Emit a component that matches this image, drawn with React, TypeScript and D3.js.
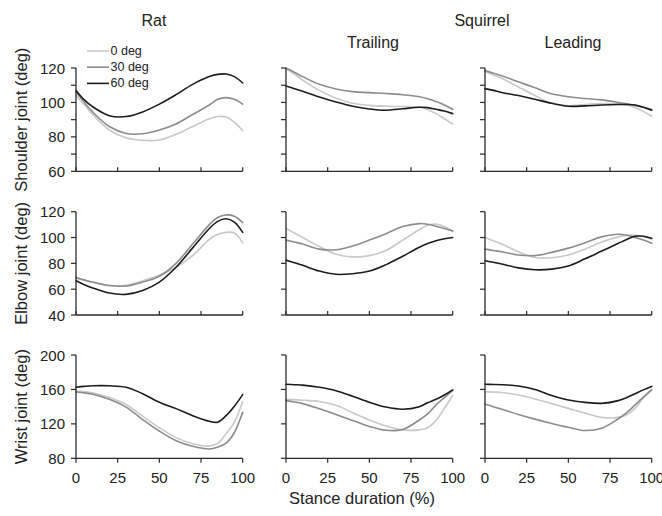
import React from "react";
import * as d3 from "d3";

const STANCE = [0, 5, 10, 20, 30, 40, 50, 60, 70, 80, 85, 90, 95, 100];
const SERIES = ["0 deg", "30 deg", "60 deg"];
const COLUMNS = ["Rat", "Trailing", "Leading"];
const GROUP_TITLE = "Squirrel";
const ROW_LABELS = ["Shoulder joint (deg)", "Elbow joint (deg)", "Wrist joint (deg)"];
const X_TICKS = [0, 25, 50, 75, 100];
const X_LABEL = "Stance duration (%)";

const SHOULDER_DOMAIN = [60, 120];
const SHOULDER_TICKS = [60, 70, 80, 90, 100, 110, 120];
const SHOULDER_LABELS = [60, 80, 100, 120];
const ELBOW_DOMAIN = [40, 120];
const ELBOW_TICKS = [40, 60, 80, 100, 120];
const ELBOW_LABELS = [40, 60, 80, 100, 120];
const WRIST_DOMAIN = [80, 200];
const WRIST_TICKS = [80, 120, 160, 200];
const WRIST_LABELS = [80, 120, 160, 200];

// Shoulder
const ratShoulder0 = [104, 98.5, 93, 84, 79.5, 78, 78.2, 81.5, 86, 90.5, 91.8, 91.5, 88.5, 83.5];
const ratShoulder30 = [106, 100, 94.5, 86, 82, 81.8, 84, 87.5, 93, 98.5, 101.8, 102.8, 101.8, 99];
const ratShoulder60 = [107, 101.5, 97.5, 92.3, 91.8, 94.5, 99, 104.5, 110.5, 115, 116.3, 116.5, 115, 111.3];
const trailShoulder0 = [119.5, 116.5, 113, 107, 102.5, 99.5, 98.3, 97.8, 97.6, 97.3, 95.8, 93.5, 90.5, 87.5];
const trailShoulder30 = [120, 117.5, 115, 110.5, 107.8, 106.3, 105.7, 105.2, 104.5, 103.3, 102.2, 100.5, 98.5, 96];
const trailShoulder60 = [109.5, 108, 106.5, 103.2, 100.3, 97.8, 96.2, 95.5, 96.3, 97.2, 97, 96, 95, 93.5];
const leadShoulder0 = [118, 116, 114, 109, 104, 99.5, 98, 98.8, 99.3, 99.2, 98.5, 97, 94.8, 92];
const leadShoulder30 = [118.5, 117, 115.5, 112, 108.5, 105, 103.3, 102.3, 101.5, 100, 99.2, 98.3, 97.2, 96];
const leadShoulder60 = [108, 107, 105.8, 104, 101.8, 99.5, 97.8, 98, 98.5, 98.8, 98.8, 98.5, 97.2, 95.5];

// Elbow
const ratElbow0 = [68.5, 66.8, 65.3, 62.8, 63, 66.5, 71, 77, 86, 98.5, 102.5, 104, 103.5, 96];
const ratElbow30 = [69, 67.2, 65.5, 62.8, 62.5, 65.5, 70, 80, 95, 110, 115.5, 117.5, 116.5, 111.5];
const ratElbow60 = [66.5, 63.5, 61, 57, 56, 59, 65.5, 77, 92, 107, 112.5, 114.5, 112, 104];
const trailElbow0 = [107, 103.5, 100, 93, 87, 85, 86, 90, 98, 106, 109.5, 110.5, 108.5, 105];
const trailElbow30 = [98, 96.5, 95, 91, 90.5, 93.5, 98, 103, 108.5, 110.8, 110.3, 108.8, 107, 105];
const trailElbow60 = [82.5, 80.5, 78.5, 74, 71.5, 72, 74, 79, 85.5, 92.5, 95.3, 97.5, 99, 100];
const leadElbow0 = [100, 97.5, 95, 89, 84.5, 84.3, 86.5, 91, 96.5, 100.5, 101.8, 101.8, 100.8, 98.5];
const leadElbow30 = [91, 90, 89, 86.5, 86, 88.5, 91.8, 96, 100.5, 102.5, 101.8, 100, 98, 95.5];
const leadElbow60 = [82, 80.8, 79.5, 76.5, 75, 75.5, 78, 83.5, 89.5, 95.5, 98.5, 101, 101, 99.5];

// Wrist
const ratWrist0 = [158, 157.3, 156, 150.5, 142.5, 129, 115.5, 104, 97, 94.2, 97.5, 108.5, 122, 146];
const ratWrist30 = [157, 156, 154.5, 148.5, 139.5, 125, 111.5, 100.5, 94, 90.8, 93, 97.5, 110, 133.5];
const ratWrist60 = [162.5, 163.5, 164.2, 164.2, 162.5, 155, 145, 137.7, 129.5, 123, 122, 129.5, 140.5, 154];
const trailWrist0 = [148.5, 148, 147.5, 146, 141.5, 133, 124.5, 117.5, 113, 113, 115.5, 124, 138, 153];
const trailWrist30 = [147, 145.5, 143.5, 137.5, 131, 124, 117, 112.5, 113.5, 124.5, 131.5, 142, 150.5, 159];
const trailWrist60 = [166, 165.5, 165, 162.5, 158.5, 152, 145, 139.5, 137, 140, 144.5, 148.5, 153.5, 159.5];
const leadWrist0 = [157.5, 157, 156.5, 153.5, 149, 143.5, 138, 132.5, 127.5, 127.5, 130.5, 138, 150, 160];
const leadWrist30 = [142.7, 140, 137, 131, 125.5, 120.5, 116, 112.3, 115, 126, 133, 142, 151, 159.5];
const leadWrist60 = [166, 165.8, 165.5, 164, 160, 153, 147.7, 145, 143.8, 147, 150.5, 155, 159.5, 163.5];

const ROWS = [
  { domain: SHOULDER_DOMAIN, ticks: SHOULDER_TICKS, labels: SHOULDER_LABELS,
    panels: [[ratShoulder0, ratShoulder30, ratShoulder60], [trailShoulder0, trailShoulder30, trailShoulder60], [leadShoulder0, leadShoulder30, leadShoulder60]] },
  { domain: ELBOW_DOMAIN, ticks: ELBOW_TICKS, labels: ELBOW_LABELS,
    panels: [[ratElbow0, ratElbow30, ratElbow60], [trailElbow0, trailElbow30, trailElbow60], [leadElbow0, leadElbow30, leadElbow60]] },
  { domain: WRIST_DOMAIN, ticks: WRIST_TICKS, labels: WRIST_LABELS,
    panels: [[ratWrist0, ratWrist30, ratWrist60], [trailWrist0, trailWrist30, trailWrist60], [leadWrist0, leadWrist30, leadWrist60]] },
];

const COLORS = ["#c9c9c9", "#8c8c8c", "#1c1c1c"];
const FONT = "'Liberation Sans', Arial, Helvetica, sans-serif";
const AXIS = "#2a2a2a";

const W = 662, H = 516;
const PANEL_X = [76, 286, 485];
const PANEL_W = 166.7;
const PANEL_Y = [68, 211.7, 355];
const PANEL_H = 103.3;

export default function App() {
  return (
    <svg width={W} height={H} viewBox={`0 0 ${W} ${H}`}
      style={{ position: "absolute", left: 0, top: 0, background: "#fff" }}
      fontFamily={FONT}>
      <rect width={W} height={H} fill="#fff" />
      {/* Column titles */}
      <text x={154} y={26} fontSize={16} textAnchor="middle" fill="#222">{COLUMNS[0]}</text>
      <text x={482} y={26} fontSize={16} textAnchor="middle" fill="#222">{GROUP_TITLE}</text>
      <text x={373} y={47.5} fontSize={16} textAnchor="middle" fill="#222">{COLUMNS[1]}</text>
      <text x={573} y={47.5} fontSize={16} textAnchor="middle" fill="#222">{COLUMNS[2]}</text>

      {ROWS.map((row, ri) => {
        const y = d3.scaleLinear().domain(row.domain).range([PANEL_Y[ri] + PANEL_H, PANEL_Y[ri]]);
        const isBottom = ri === ROWS.length - 1;
        return (
          <g key={ri}>
            <text transform={`translate(21,${PANEL_Y[ri] + PANEL_H / 2}) rotate(-90)`}
              fontSize={16.5} textAnchor="middle" dominantBaseline="central" fill="#222">{ROW_LABELS[ri]}</text>
            {row.panels.map((series, ci) => {
              const x = d3.scaleLinear().domain([0, 100]).range([PANEL_X[ci], PANEL_X[ci] + PANEL_W]);
              const line = d3.line<number>()
                .x((_, i) => x(STANCE[i]))
                .y((v) => y(v))
                .curve(d3.curveCatmullRom.alpha(0.5));
              const y0 = y(row.domain[0]);
              const x0 = x(0);
              return (
                <g key={ci}>
                  {series.map((vals, si) => (
                    <path key={si} d={line(vals) || ""} fill="none" stroke={COLORS[si]}
                      strokeWidth={1.6} strokeLinejoin="round" strokeLinecap="round" />
                  ))}
                  {/* y axis */}
                  <line x1={x0} x2={x0} y1={y(row.domain[1])} y2={y0} stroke={AXIS} strokeWidth={1.3} />
                  {row.ticks.map((t) => (
                    <line key={t} x1={x0 - 5} x2={x0} y1={y(t)} y2={y(t)} stroke={AXIS} strokeWidth={1.2} />
                  ))}
                  {ci === 0 && row.labels.map((t) => (
                    <text key={t} x={x0 - 11} y={y(t)} fontSize={15} textAnchor="end"
                      dominantBaseline="central" fill="#222">{t}</text>
                  ))}
                  {/* x axis */}
                  <line x1={x0} x2={x(100)} y1={y0} y2={y0} stroke={AXIS} strokeWidth={1.3} />
                  {X_TICKS.map((t) => (
                    <line key={t} x1={x(t)} x2={x(t)} y1={y0} y2={isBottom ? y0 + 4.5 : y0 - 4} stroke={AXIS} strokeWidth={1.2} />
                  ))}
                  {isBottom && X_TICKS.map((t) => (
                    <text key={t} x={x(t)} y={y0 + 25} fontSize={15} textAnchor="middle" fill="#222">{t}</text>
                  ))}
                  {ri === 0 && ci === 0 && SERIES.map((s, si) => (
                    <g key={s}>
                      <line x1={87} x2={109} y1={51 + si * 16.2} y2={51 + si * 16.2}
                        stroke={COLORS[si]} strokeWidth={1.6} />
                      <text x={110.5} y={51 + si * 16.2} fontSize={12.5} dominantBaseline="central" fill="#222">{s}</text>
                    </g>
                  ))}
                </g>
              );
            })}
          </g>
        );
      })}
      <text x={362} y={504} fontSize={16.5} textAnchor="middle" fill="#222">{X_LABEL}</text>
    </svg>
  );
}
